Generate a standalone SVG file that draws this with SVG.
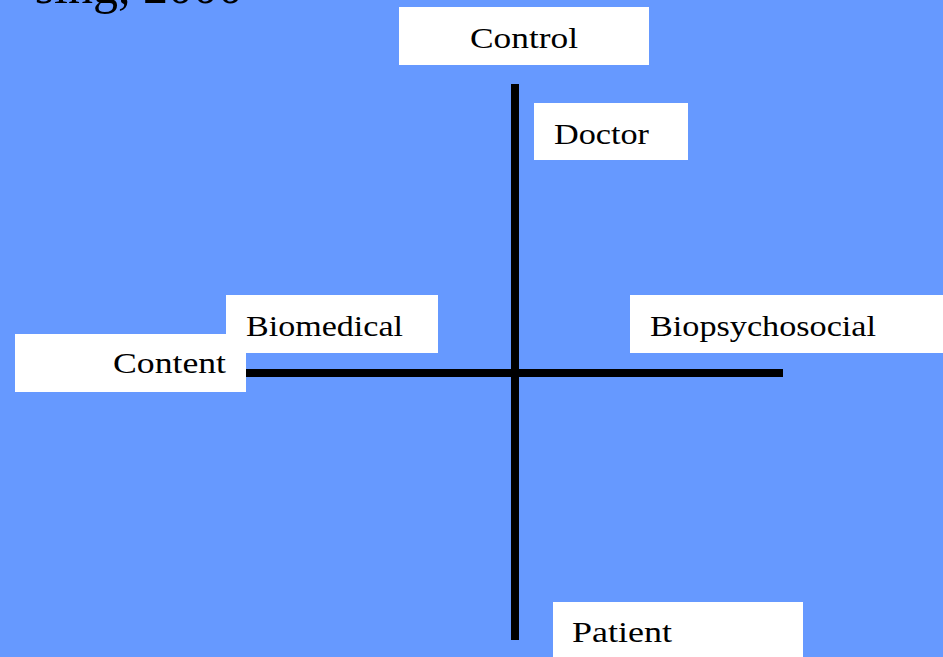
<svg xmlns="http://www.w3.org/2000/svg" width="943" height="657" viewBox="0 0 943 657">
<style>
.box{fill:#ffffff;stroke:none}
.lbl{font-family:"Liberation Serif","DejaVu Serif",serif;font-size:30px;fill:#000000}
.axis{stroke:#000000;stroke-width:8;fill:none}
</style>
<rect x="0" y="0" width="943" height="657" fill="#6699ff"/>
<text x="243" y="3" text-anchor="end" font-family="'Liberation Serif','DejaVu Serif',serif" font-size="50" fill="#000">sing, 2000</text>
<g id="connectors">
<line class="axis" x1="515" y1="84" x2="515" y2="640"/>
<line class="axis" x1="240" y1="373" x2="783" y2="373"/>
</g>
<g id="control">
<rect class="box" x="399" y="7" width="250" height="58"/>
<text class="lbl" x="470" y="48" textLength="108" lengthAdjust="spacingAndGlyphs">Control</text>
</g>
<g id="doctor">
<rect class="box" x="534" y="103" width="154" height="57"/>
<text class="lbl" x="554" y="144" textLength="95" lengthAdjust="spacingAndGlyphs">Doctor</text>
</g>
<g id="biomedical">
<rect class="box" x="226" y="295" width="212" height="58"/>
<text class="lbl" x="246" y="336" textLength="157" lengthAdjust="spacingAndGlyphs">Biomedical</text>
</g>
<g id="content">
<rect class="box" x="15" y="334" width="231" height="58"/>
<text class="lbl" x="113" y="373" textLength="113" lengthAdjust="spacingAndGlyphs">Content</text>
</g>
<g id="biopsychosocial">
<rect class="box" x="630" y="295" width="313" height="58"/>
<text class="lbl" x="650" y="336" textLength="226" lengthAdjust="spacingAndGlyphs">Biopsychosocial</text>
</g>
<g id="patient">
<rect class="box" x="553" y="602" width="250" height="55"/>
<text class="lbl" x="572" y="642" textLength="100" lengthAdjust="spacingAndGlyphs">Patient</text>
</g>
</svg>
